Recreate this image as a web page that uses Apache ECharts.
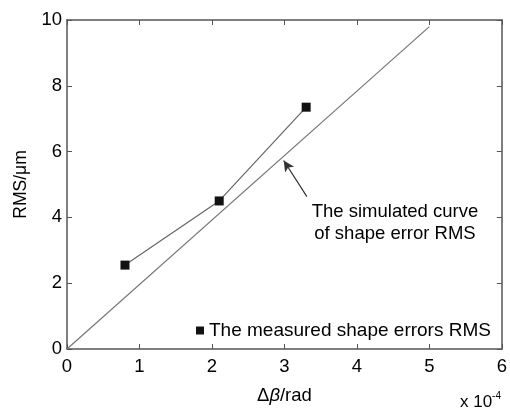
<!DOCTYPE html>
<html>
<head>
<meta charset="utf-8">
<script src="https://cdn.jsdelivr.net/npm/echarts@6/dist/echarts.min.js"></script>
<style>html,body{margin:0;padding:0;background:#fff}#c{width:510px;height:410px}</style>
</head>
<body>
<div id="c"></div>
<script>
// Measured data (x in rad, y in µm)
var measuredX = [0.8e-4, 2.1e-4, 3.3e-4];
var measuredY = [2.55, 4.5, 7.35];
// Simulated straight line endpoints
var simulatedX = [0, 5e-4];
var simulatedY = [0, 9.8];
// Axis ticks
var xTicks = [0, 1, 2, 3, 4, 5, 6];
var yTicks = [0, 2, 4, 6, 8, 10];
// Annotation arrow (tail -> head) in data units
var arrowTail = [3.31e-4, 4.63];
var arrowHead = [2.99e-4, 5.73];

var FONT = 'Liberation Sans, Arial, sans-serif';
var FS = 18.5;
var TXT = '#000';
var axisColor = '#555';
var chart = echarts.init(document.getElementById('c'), null, {renderer: 'canvas'});

function pairs(xs, ys) { return xs.map(function (x, i) { return [x, ys[i]]; }); }

var tickCommon = {show: true, inside: true, length: 5, lineStyle: {color: axisColor, width: 1}};
var lineCommon = {show: true, onZero: false, lineStyle: {color: axisColor, width: 1.5}};

var option = {
  backgroundColor: '#fff',
  animation: false,
  textStyle: {fontFamily: FONT},
  grid: {left: 67, right: 6, top: 20, bottom: 55},
  legend: {
    data: [{name: 'The measured shape errors RMS', icon: 'rect'}],
    left: 191, top: 316,
    itemWidth: 8, itemHeight: 8, itemGap: 10,
    textStyle: {fontFamily: FONT, fontSize: 19, color: TXT}
  },
  xAxis: [{
    type: 'value', min: 0, max: 6e-4, interval: 1e-4,
    axisLine: lineCommon, axisTick: tickCommon, splitLine: {show: false},
    axisLabel: {fontSize: FS, color: TXT, margin: 8, fontFamily: FONT,
      formatter: function (v) { return String(xTicks[Math.round(v * 1e4)]); }},
    name: '{a|Δ}{b|β}{a|/rad}', nameLocation: 'middle', nameGap: 37,
    nameTextStyle: {rich: {
      a: {fontSize: FS, fontFamily: FONT, color: TXT},
      b: {fontSize: FS, fontFamily: FONT, fontStyle: 'italic', color: TXT}
    }}
  }, {
    type: 'value', position: 'top', min: 0, max: 6e-4, interval: 1e-4,
    axisLine: lineCommon, axisTick: tickCommon, axisLabel: {show: false}, splitLine: {show: false}
  }],
  yAxis: [{
    type: 'value', min: 0, max: 10, interval: 2,
    axisLine: lineCommon, axisTick: tickCommon, splitLine: {show: false},
    axisLabel: {fontSize: FS, color: TXT, margin: 5, fontFamily: FONT,
      formatter: function (v) { return String(yTicks[Math.round(v / 2)]); }},
    name: 'RMS/μm', nameLocation: 'middle', nameGap: 33,
    nameTextStyle: {fontSize: 17.5, color: TXT, fontFamily: FONT}
  }, {
    type: 'value', position: 'right', min: 0, max: 10, interval: 2,
    axisLine: lineCommon, axisTick: tickCommon, axisLabel: {show: false}, splitLine: {show: false}
  }],
  series: [{
    name: 'The simulated curve',
    type: 'line',
    data: pairs(simulatedX, simulatedY),
    showSymbol: false, symbol: 'none',
    lineStyle: {color: '#777', width: 1.2},
    markLine: {
      silent: true,
      symbol: ['none', 'arrow'], symbolSize: [8, 11],
      lineStyle: {color: '#333', width: 1.2, type: 'solid'},
      label: {show: false},
      data: [[{coord: arrowTail}, {coord: arrowHead}]]
    }
  }, {
    name: 'The measured shape errors RMS',
    type: 'line',
    data: pairs(measuredX, measuredY),
    symbol: 'rect', symbolSize: 9,
    itemStyle: {color: '#111'},
    lineStyle: {color: '#666', width: 1.2}
  }],
  graphic: [{
    type: 'text', x: 395, y: 201,
    style: {text: 'The simulated curve\nof shape error RMS', font: FS + 'px ' + FONT, fill: TXT,
      align: 'center', lineHeight: 22}
  }, {
    type: 'text', right: 9, top: 391,
    style: {rich: {
      a: {fontSize: 17, fontFamily: FONT, fill: TXT},
      s: {fontSize: 10, fontFamily: FONT, fill: TXT, verticalAlign: 'top', padding: [0, 0, 12, 0]}
    }, text: '{a|x 10}{s|-4}'}
  }]
};
chart.setOption(option);
</script>
</body>
</html>
